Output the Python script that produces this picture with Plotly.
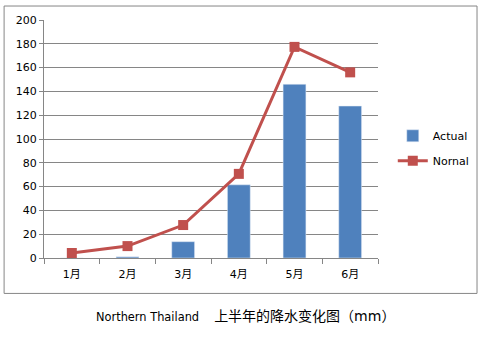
import plotly.graph_objects as go

months = ["1月", "2月", "3月", "4月", "5月", "6月"]
actual = [0, 1, 13.7, 61.5, 146, 127.7]
normal = [4.2, 10, 27.7, 70.7, 177.4, 156]
y_ticks = [0, 20, 40, 60, 80, 100, 120, 140, 160, 180, 200]
title_latin = "Northern Thailand"
title_cjk = "上半年的降水变化图（mm）"

W, H = 487, 338
L, R, T, B = 44, 104, 19.5, 80
pw, ph = W - L - R, H - T - B

def px(x):
    return (x - L) / pw

def py(y):
    return (H - B - y) / ph

font_fam = "DejaVu Sans, Noto Sans CJK SC, sans-serif"

fig = go.Figure()
fig.add_trace(go.Bar(x=months, y=actual, name="Actual", marker_color="#4F81BD",
                     legendgroup="a"))
fig.add_trace(go.Scatter(x=months, y=normal, name="Nornal", mode="lines+markers",
                         line=dict(color="#C0504D", width=3),
                         marker=dict(symbol="square", size=10, color="#C0504D"),
                         legendgroup="b"))

fig.update_layout(
    width=W, height=H,
    margin=dict(l=L, r=R, t=T, b=B),
    paper_bgcolor="white", plot_bgcolor="white",
    bargap=0.59,
    font=dict(family=font_fam, size=11, color="black"),
    showlegend=True,
    legend=dict(x=px(398), y=py(121), xanchor="left", yanchor="top",
                traceorder="grouped", tracegroupgap=6,
                font=dict(size=11), bgcolor="rgba(0,0,0,0)"),
    xaxis=dict(showline=True, linecolor="#868686", linewidth=1,
               ticks="outside", tickson="boundaries", ticklen=5, tickcolor="#868686",
               showgrid=False, tickfont=dict(size=11), ticklabelstandoff=6),
    yaxis=dict(range=[0, 200], tickvals=y_ticks, showline=True, linecolor="#868686",
               linewidth=1, ticks="outside", ticklen=4, tickcolor="#868686",
               showgrid=True, gridcolor="#868686", gridwidth=1, zeroline=False,
               tickfont=dict(size=11)),
    shapes=[dict(type="rect", xref="paper", yref="paper",
                 x0=px(3.5), x1=px(483.5), y0=py(293.5), y1=py(5.5),
                 line=dict(color="#868686", width=1), fillcolor="rgba(0,0,0,0)",
                 layer="below")],
    annotations=[dict(text=title_latin + "\u3000 <span style='font-size:14px'>" + title_cjk + "</span>",
                      xref="paper", yref="paper",
                      x=px(249), y=py(326), showarrow=False,
                      font=dict(size=11.4, color="black"))],
)

fig.write_html("out.html")
